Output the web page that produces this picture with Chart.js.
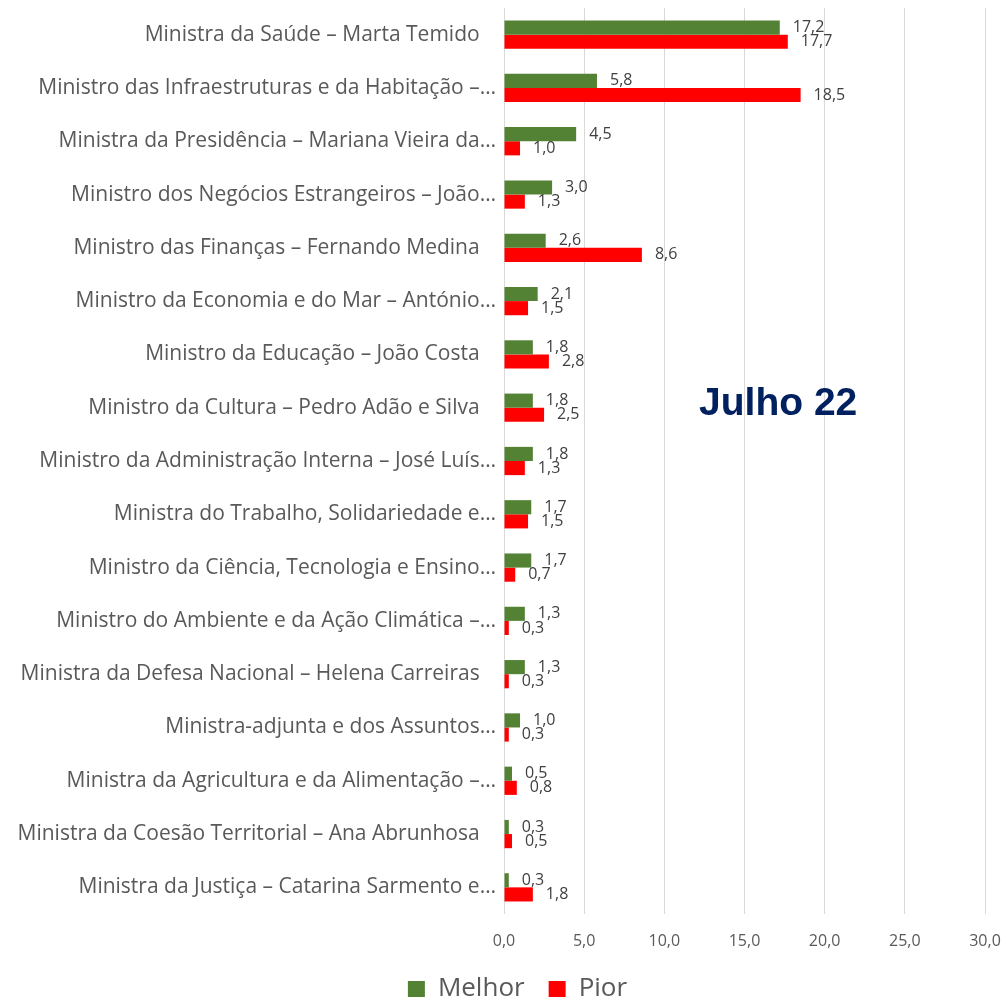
<!DOCTYPE html>
<html>
<head>
<meta charset="utf-8">
<script src="https://cdn.jsdelivr.net/npm/chart.js@4.4.0/dist/chart.umd.min.js"></script>
<style>
  html, body { margin: 0; padding: 0; background: #fff; }
  #wrap { width: 1006px; height: 1000px; position: relative; }
</style>
</head>
<body>
<div id="wrap"><canvas id="chart_julho"></canvas></div>
<script>
// categorias (ministros)
var ministros = [
  'Ministra da Saúde – Marta Temido   ',
  'Ministro das Infraestruturas e da Habitação –…',
  'Ministra da Presidência – Mariana Vieira da…',
  'Ministro dos Negócios Estrangeiros – João…',
  'Ministro das Finanças – Fernando Medina   ',
  'Ministro da Economia e do Mar – António…',
  'Ministro da Educação – João Costa   ',
  'Ministro da Cultura – Pedro Adão e Silva   ',
  'Ministro da Administração Interna – José Luís…',
  'Ministra do Trabalho, Solidariedade e…',
  'Ministro da Ciência, Tecnologia e Ensino…',
  'Ministro do Ambiente e da Ação Climática –…',
  'Ministra da Defesa Nacional – Helena Carreiras   ',
  'Ministra-adjunta e dos Assuntos…',
  'Ministra da Agricultura e da Alimentação –…',
  'Ministra da Coesão Territorial – Ana Abrunhosa   ',
  'Ministra da Justiça – Catarina Sarmento e…'
];
var melhor = [17.2, 5.8, 4.5, 3.0, 2.6, 2.1, 1.8, 1.8, 1.8, 1.7, 1.7, 1.3, 1.3, 1.0, 0.5, 0.3, 0.3];
var pior   = [17.7, 18.5, 1.0, 1.3, 8.6, 1.5, 2.8, 2.5, 1.3, 1.5, 0.7, 0.3, 0.3, 0.3, 0.8, 0.5, 1.8];
var eixoX = { min: 0, max: 30, step: 5 };
var titulo = 'Julho 22';

var fonte = '"Open Sans", Lato, sans-serif';
function fmt(v){ return Number(v).toFixed(1).replace('.', ','); }

// -------------------- rotulos dos valores
var rotulos = {
  id: 'rotulos',
  afterDatasetsDraw: function(chart){
    var ctx = chart.ctx;
    ctx.save();
    ctx.font = '16px ' + fonte;
    ctx.fillStyle = '#404040';
    ctx.textAlign = 'left';
    ctx.textBaseline = 'middle';
    chart.data.datasets.forEach(function(ds, i){
      var meta = chart.getDatasetMeta(i);
      meta.data.forEach(function(bar, j){
        ctx.fillText(fmt(ds.data[j]), bar.x + 13, bar.y);
      });
    });
    ctx.restore();
  }
};

// -------------------- titulo dentro da area
var tituloPlugin = {
  id: 'tituloJulho',
  afterDraw: function(chart){
    var a = chart.chartArea, ctx = chart.ctx;
    ctx.save();
    ctx.font = 'bold 39px "Liberation Sans", Arial, sans-serif';
    ctx.fillStyle = '#002060';
    ctx.textAlign = 'center';
    ctx.textBaseline = 'middle';
    ctx.fillText(titulo, a.left + (a.right - a.left) * 0.570, a.top + (a.bottom - a.top) * 0.437);
    ctx.restore();
  }
};

// legenda um pouco deslocada para a direita, como no original
var legendaDesloc = {
  id: 'legendaDesloc',
  afterLayout: function(chart){
    if (chart.legend) { chart.legend.left += 25; chart.legend.right += 25; }
  }
};

var ctx = document.getElementById('chart_julho').getContext('2d');
window.chart_julho = new Chart(ctx, {
  type: 'bar',
  data: {
    labels: ministros,
    datasets: [
      { label: 'Melhor', data: melhor, backgroundColor: '#548235', borderWidth: 0,
        categoryPercentage: 0.53, barPercentage: 1.0 },
      { label: 'Pior', data: pior, backgroundColor: '#FF0000', borderWidth: 0,
        categoryPercentage: 0.53, barPercentage: 1.0 }
    ]
  },
  options: {
    indexAxis: 'y',
    responsive: true,
    maintainAspectRatio: false,
    animation: false,
    layout: { padding: { top: 8, right: 21, left: 0, bottom: -12 } },
    scales: {
      x: {
        min: eixoX.min, max: eixoX.max,
        ticks: { stepSize: eixoX.step, color: '#595959', padding: 18,
                 font: { size: 16, family: fonte },
                 callback: function(v){ return fmt(v); } },
        grid: { color: '#d9d9d9', lineWidth: 1, drawTicks: false },
        border: { display: false },
        afterFit: function(scale){ scale.height = 38; scale.paddingLeft = 0; scale.paddingRight = 0; }
      },
      y: {
        ticks: { color: '#595959', padding: 8,
                 font: { size: 21, family: fonte } },
        grid: { display: false, drawTicks: false },
        border: { display: false },
        afterFit: function(scale){ scale.width = 504; scale.paddingTop = 0; scale.paddingBottom = 0; }
      }
    },
    plugins: {
      legend: {
        position: 'bottom',
        labels: { boxWidth: 17, boxHeight: 16, padding: 24, color: '#595959',
                  font: { size: 26, family: fonte } }
      },
      tooltip: { enabled: false },
      title: { display: false }
    }
  },
  plugins: [rotulos, tituloPlugin, legendaDesloc]
});
</script>
</body>
</html>
